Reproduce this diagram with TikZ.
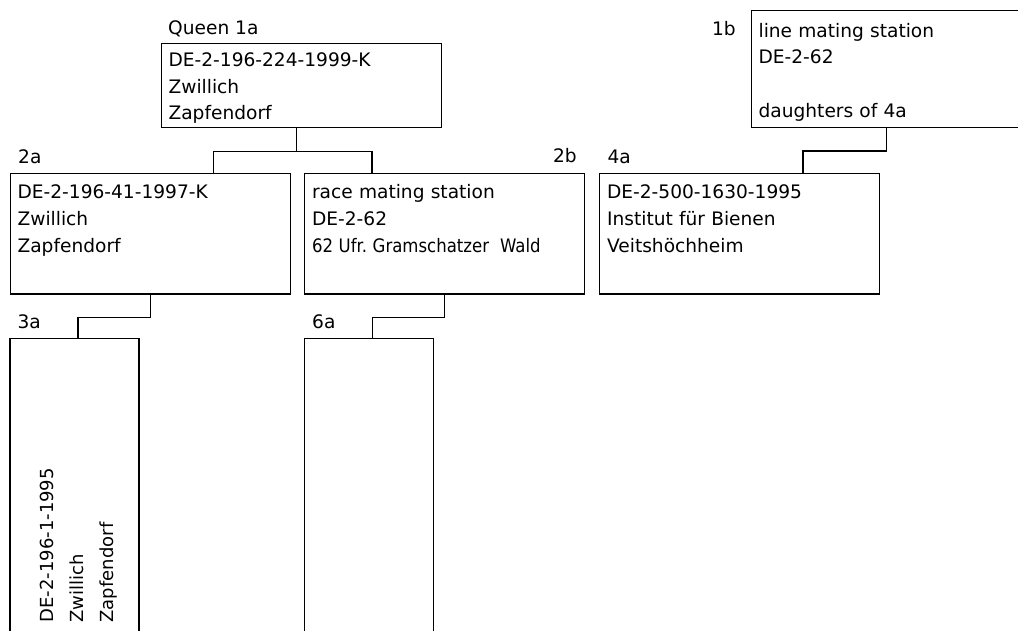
\documentclass[tikz,border=0pt]{standalone}
\usepackage{graphicx}
\usepackage{fontspec}
\setmainfont{DejaVu Sans}
\usetikzlibrary{positioning}

\tikzset{
  pedbox/.style={draw,line width=1.2pt,anchor=north west,align=left,
    inner xsep=7.5pt,inner ysep=0pt,text width=265pt,
    text height=25.6pt,text depth=95.1pt},
  sidebox/.style={pedbox,rotate=90,inner xsep=16pt,text width=268pt,
    text height=43.4pt,text depth=85.6pt,font=\fontsize{18}{30.3}\selectfont},
  tag/.style={inner sep=0pt},
  link/.style={line width=1.2pt}
}

\begin{document}
\begin{tikzpicture}[x=1pt,y=-1pt,every node/.style={font=\fontsize{18.6}{26.6}\selectfont\frenchspacing}]
  \useasboundingbox (0,0) rectangle (1018,630);
  \clip (0,0) rectangle (1018,630);
  % generation 1
  \node[pedbox,text height=23pt,text depth=61pt] (n1a) at (160.5,43) {DE-2-196-224-1999-K\\Zwillich\\Zapfendorf};
  \node[pedbox,text height=26.7pt,text depth=90pt] (n1b) at (750.5,10) {line mating station\\DE-2-62\\\mbox{}\\daughters of 4a};
  % generation 2
  \node[pedbox] (n2a) at (9.5,172.7) {DE-2-196-41-1997-K\\Zwillich\\Zapfendorf};
  \node[pedbox] (n2b) at (304,172.7) {race mating station\\DE-2-62\\\scalebox{0.89}[1]{62 Ufr. Gramschatzer~~Wald}};
  \node[pedbox] (n4a) at (599,172.7) {DE-2-500-1630-1995\\Institut für Bienen\\Veitshöchheim};
  % generation 3
  \node[sidebox] (n3a) at (9.3,639) {DE-2-196-1-1995\\Zwillich\\Zapfendorf};
  \node[sidebox] (n6a) at (304,639) {};
  % tags
  \node[tag,above right=8.7pt and 7.5pt of n1a.north west,anchor=base west] (l1a) {Queen 1a};
  \node[tag,anchor=base east] (l1b) at ([xshift=-14.5pt,yshift=-25pt]n1b.north west) {1b};
  \node[tag,above right=9.4pt and 8.5pt of n2a.north west,anchor=base west] (l2a) {2a};
  \node[tag,above left=10pt and 8.3pt of n2b.north east,anchor=base east] (l2b) {2b};
  \node[tag,above right=9.4pt and 8.3pt of n4a.north west,anchor=base west] (l4a) {4a};
  \node[tag,above right=9pt and 8pt of n3a.north east,anchor=base west] (l3a) {3a};
  \node[tag,above right=9pt and 8pt of n6a.north east,anchor=base west] (l6a) {6a};
  % links
  \draw[link] ([xshift=136pt]n1a.south west) -- ++(0,23) -| ([xshift=204pt]n2a.north west);
  \draw[link] ([xshift=136pt]n1a.south west) -- ++(0,23) -| ([xshift=68pt]n2b.north west);
  \draw[link] ([xshift=136pt]n1b.south west) -- ++(0,23) -| ([xshift=204pt]n4a.north west);
  \draw[link] (n2a.south) -- ++(0,23) -| ([xshift=3.5pt]n3a.east);
  \draw[link] (n2b.south) -- ++(0,23) -| ([xshift=3.5pt]n6a.east);
\end{tikzpicture}
\end{document}
